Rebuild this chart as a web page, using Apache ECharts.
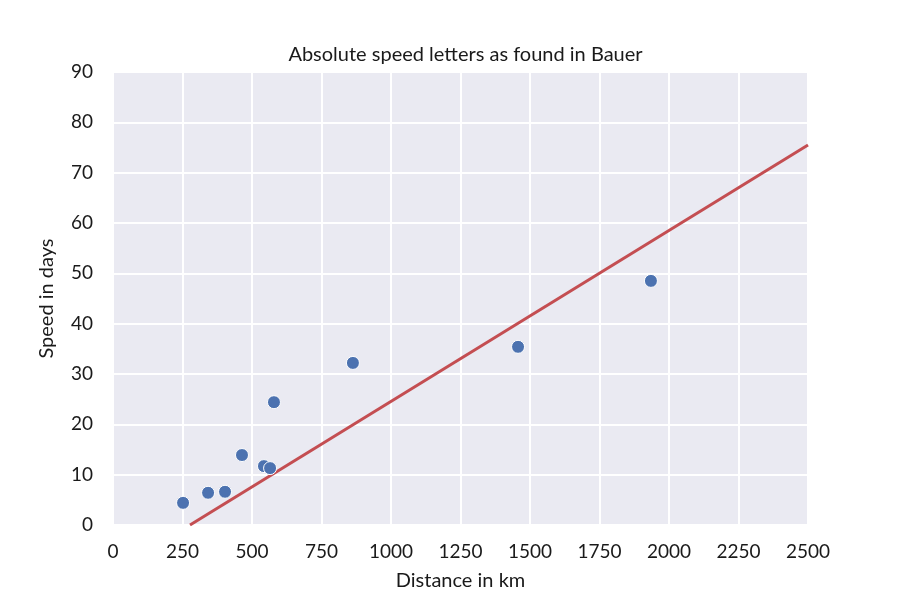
<!DOCTYPE html>
<html><head><meta charset="utf-8">
<script src="https://cdn.jsdelivr.net/npm/echarts@6/dist/echarts.min.js"></script>
<style>html,body{margin:0;padding:0;background:#fff}#c{width:900px;height:600px}</style>
</head><body><div id="c"></div>
<script>
const distanceKm = [252, 342, 403, 464, 543, 565, 579, 863, 1457, 1935];
const speedDays = [4.4, 6.4, 6.6, 13.9, 11.7, 11.3, 24.4, 32.2, 35.4, 48.5];
const fitX = [277, 2500];
const fitY = [0, 75.5];
const xTicks = [0, 250, 500, 750, 1000, 1250, 1500, 1750, 2000, 2250, 2500];
const yTicks = [0, 10, 20, 30, 40, 50, 60, 70, 80, 90];

const FONT = 'Lato';
const chart = echarts.init(document.getElementById('c'));
chart.setOption({
  animation: false,
  title: {text: 'Absolute speed letters as found in Bauer', left: 460.5, textAlign: 'center', top: 40,
    textStyle: {fontFamily: FONT, fontSize: 20, fontWeight: 'normal', color: '#1a1a1a'}},
  grid: {left: 113, right: 92, top: 72, bottom: 75, backgroundColor: '#EAEAF2', show: true, borderWidth: 0},
  xAxis: {type: 'value', min: xTicks[0], max: xTicks[xTicks.length-1], interval: 250,
    name: 'Distance in km', nameLocation: 'middle', nameGap: 46,
    nameTextStyle: {fontFamily: FONT, fontSize: 20, color: '#1a1a1a'},
    axisLine: {show: false}, axisTick: {show: false},
    axisLabel: {fontFamily: FONT, fontSize: 19, color: '#1a1a1a', margin: 17,
      formatter: v => String(v)},
    splitLine: {lineStyle: {color: '#fff', width: 2}}},
  yAxis: {type: 'value', min: yTicks[0], max: yTicks[yTicks.length-1], interval: 10,
    name: 'Speed in days', nameLocation: 'middle', nameGap: 56,
    nameTextStyle: {fontFamily: FONT, fontSize: 20, color: '#1a1a1a'},
    axisLine: {show: false}, axisTick: {show: false},
    axisLabel: {fontFamily: FONT, fontSize: 19, color: '#1a1a1a', margin: 20,
      formatter: v => String(v)},
    splitLine: {lineStyle: {color: '#fff', width: 2}}},
  series: [
    {type: 'line', data: fitX.map((x, i) => [x, fitY[i]]), symbol: 'none', z: 2,
      lineStyle: {color: '#C44E52', width: 3}},
    {type: 'scatter', data: distanceKm.map((x, i) => [x, speedDays[i]]), symbolSize: 13, z: 3,
      itemStyle: {color: '#4C72B0', borderColor: '#fff', borderWidth: 1, opacity: 1}}
  ]
});
</script></body></html>
